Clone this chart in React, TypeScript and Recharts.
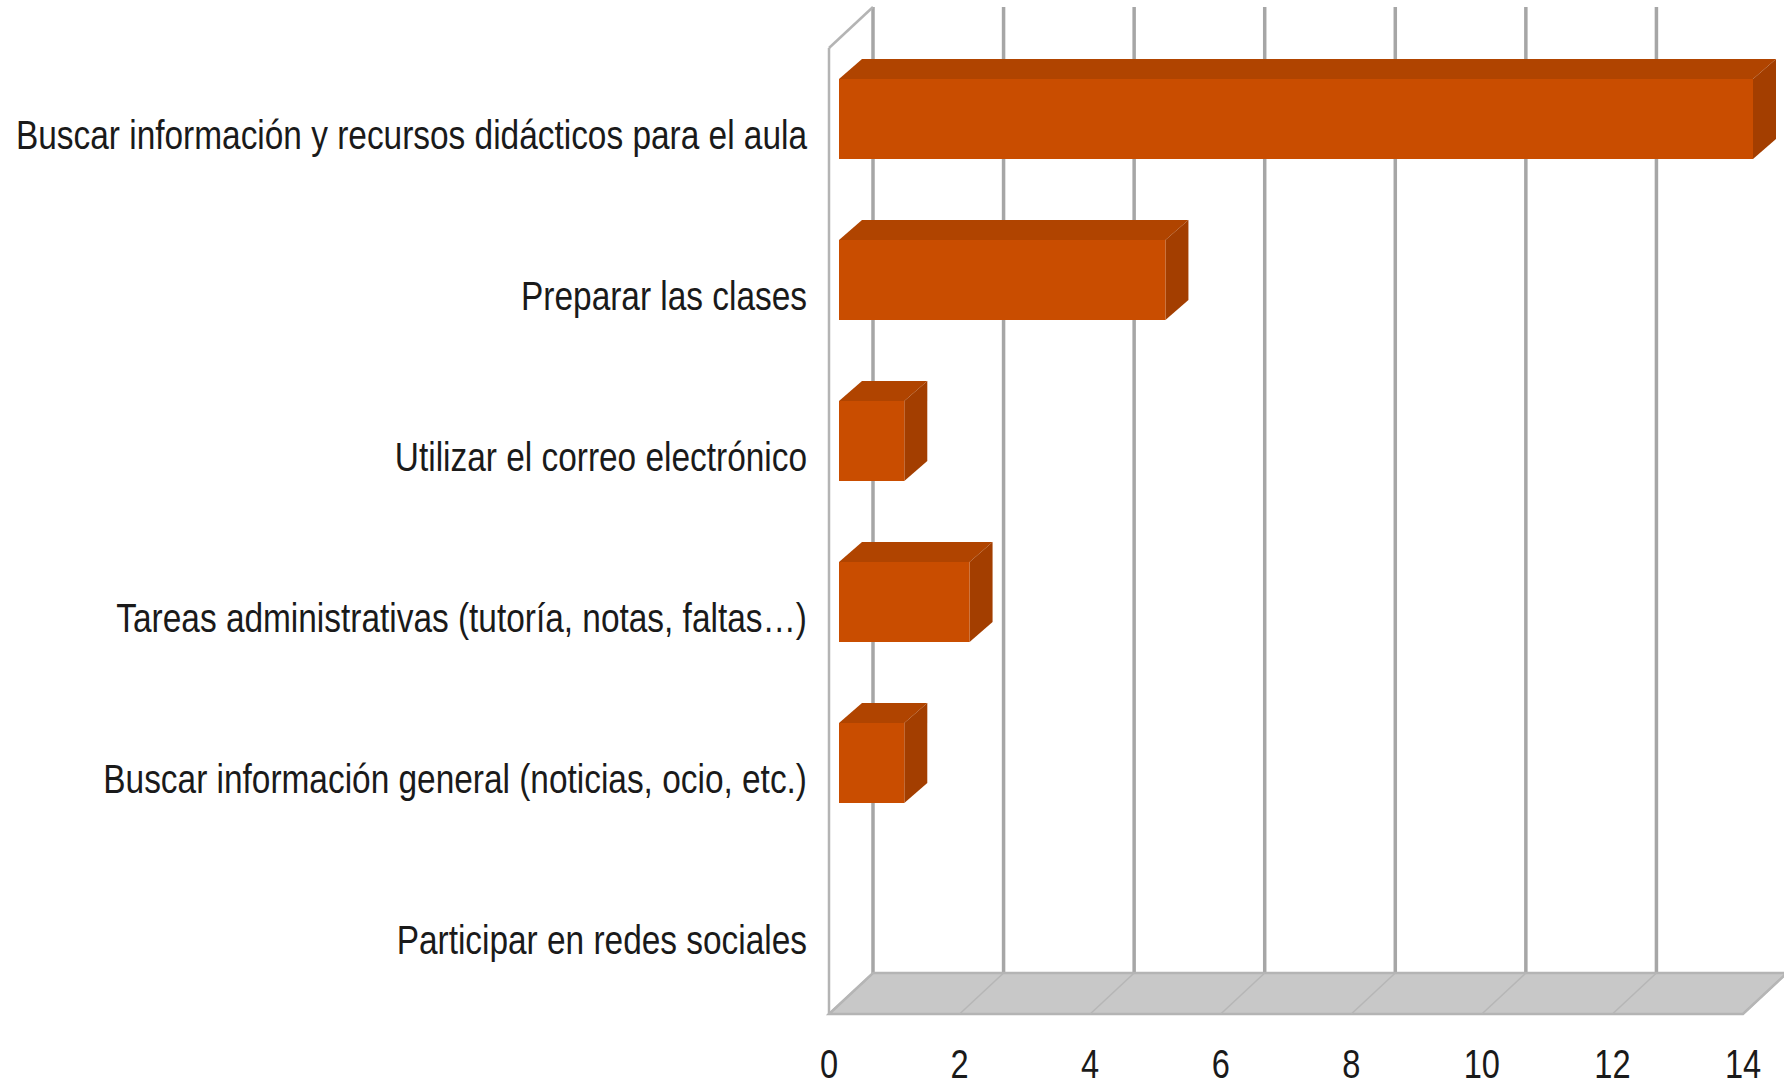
import React from "react";
import { BarChart, Bar, XAxis, YAxis, ReferenceArea, ReferenceLine, CartesianGrid } from "recharts";

const categories = [
  "Buscar información y recursos didácticos para el aula",
  "Preparar las clases",
  "Utilizar el correo electrónico",
  "Tareas administrativas (tutoría, notas, faltas…)",
  "Buscar información general (noticias, ocio, etc.)",
  "Participar en redes sociales",
];
const values = [14, 5, 1, 2, 1, 0];
const xTicks = [0, 2, 4, 6, 8, 10, 12, 14];

const data = categories.map((name, i) => ({ name, value: values[i] }));

const FONT = "'Liberation Sans', Arial, sans-serif";
const FS = 41;
const SX = 0.815; // horizontal condense to mimic Arial Narrow
const DX = 44; // depth offset x (wall)
const DY = 41; // depth offset y (wall)
const BOFF = 10; // bar front offset
const BDX = 23;
const BDY = 20;

const FRONT = "#C94D00";
const TOP = "#B04400";
const SIDE = "#A33E00";

const Bar3D = (props: any) => {
  const { x, y, width, height } = props;
  if (!width || width <= 0) return null;
  const fx = x + BOFF;
  const fy = y - BOFF;
  const r = fx + width;
  return (
    <g>
      <polygon
        points={`${fx},${fy} ${fx + BDX},${fy - BDY} ${r + BDX},${fy - BDY} ${r},${fy}`}
        fill={TOP}
      />
      <polygon
        points={`${r},${fy} ${r + BDX},${fy - BDY} ${r + BDX},${fy - BDY + height} ${r},${fy + height}`}
        fill={SIDE}
      />
      <rect x={fx} y={fy} width={width} height={height} fill={FRONT} />
    </g>
  );
};

const Walls = (props: any) => {
  const { x, y, width, height } = props;
  const b = y + height;
  return (
    <g>
      <polygon
        points={`${x},${b} ${x + DX},${b - DY} ${x + width + DX},${b - DY} ${x + width},${b}`}
        fill="#C8C8C8"
        stroke="#B4B4B4"
        strokeWidth={2.5}
      />
      <line x1={x} y1={y} x2={x} y2={b} stroke="#B4B4B4" strokeWidth={2.5} />
      <line x1={x} y1={y} x2={x + DX} y2={y - DY} stroke="#B4B4B4" strokeWidth={2.5} />
    </g>
  );
};

const BackLine = (props: any) => {
  const { x1, y1, y2 } = props;
  const top = Math.min(y1, y2);
  const bot = Math.max(y1, y2);
  return (
    <line
      key={`b-${x1}`}
      x1={x1 + DX}
      y1={top - DY}
      x2={x1 + DX}
      y2={bot - DY}
      stroke="#A6A6A6"
      strokeWidth={3.5}
    />
  );
};

const FloorLine = (props: any) => {
  const { x1, y1, y2 } = props;
  const bot = Math.max(y1, y2);
  return <line x1={x1} y1={bot} x2={x1 + DX} y2={bot - DY} stroke="#B6B6B6" strokeWidth={1.5} />;
};

const YTick = (props: any) => {
  const { x, y, payload } = props;
  return (
    <text
      transform={`translate(${x},${y + 20}) scale(${SX},1)`}
      x={0}
      y={0}
      textAnchor="end"
      fontFamily={FONT}
      fontSize={FS}
      fill="#1A1A1A"
    >
      {payload.value}
    </text>
  );
};

const XTick = (props: any) => {
  const { x, y, payload } = props;
  return (
    <text
      transform={`translate(${x},${y + 64}) scale(${SX},1)`}
      x={0}
      y={0}
      textAnchor="middle"
      fontFamily={FONT}
      fontSize={FS - 1}
      fill="#1A1A1A"
    >
      {payload.value}
    </text>
  );
};

export default function App() {
  return (
    <div style={{ position: "absolute", left: 0, top: 0, width: 1784, height: 1087, background: "#fff" }}>
      <BarChart
        width={1784}
        height={1087}
        data={data}
        layout="vertical"
        margin={{ top: 48, right: 41, left: 0, bottom: 0 }}
      >
        <CartesianGrid horizontal={false} vertical={(p: any) => <BackLine {...p} />} />
        <XAxis
          type="number"
          domain={[0, 14]}
          ticks={xTicks}
          axisLine={false}
          tickLine={false}
          tickSize={0}
          tickMargin={0}
          height={73}
          tick={<XTick />}
          interval={0}
        />
        <YAxis
          type="category"
          dataKey="name"
          width={829}
          axisLine={false}
          tickLine={false}
          tickSize={0}
          tickMargin={22}
          tick={<YTick />}
          interval={0}
        />
        <ReferenceArea x1={0} x2={14} shape={<Walls />} ifOverflow="visible" />
        {xTicks.map((t) => (
          <ReferenceLine key={t} x={t} ifOverflow="visible" shape={(p: any) => <FloorLine {...p} />} />
        ))}
        <Bar dataKey="value" barSize={80} shape={<Bar3D />} isAnimationActive={false} />
      </BarChart>
    </div>
  );
}
